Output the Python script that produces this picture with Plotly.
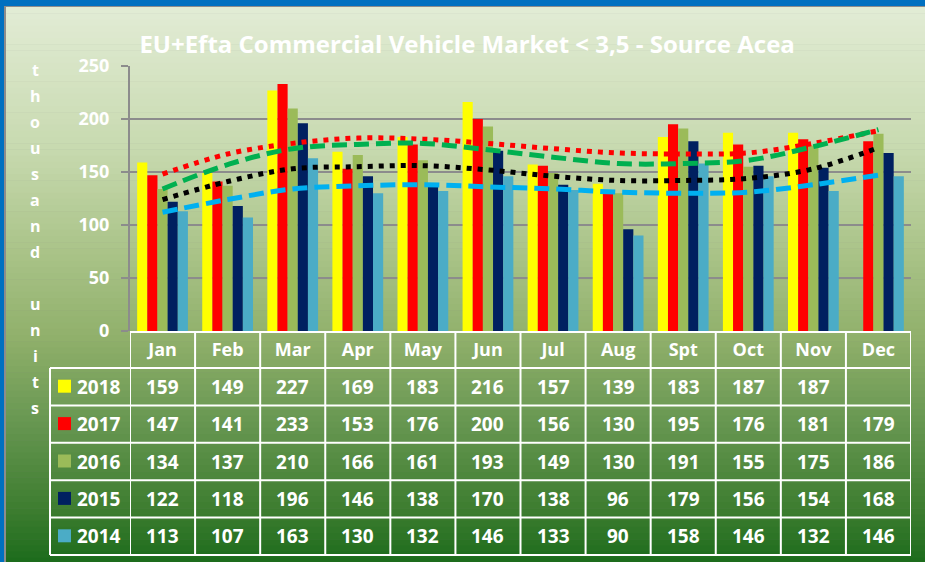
import plotly.graph_objects as go

months = ["Jan", "Feb", "Mar", "Apr", "May", "Jun", "Jul", "Aug", "Spt", "Oct", "Nov", "Dec"]
years = ["2018", "2017", "2016", "2015", "2014"]

v2018 = [159, 149, 227, 169, 183, 216, 157, 139, 183, 187, 187, None]
v2017 = [147, 141, 233, 153, 176, 200, 156, 130, 195, 176, 181, 179]
v2016 = [134, 137, 210, 166, 161, 193, 149, 130, 191, 155, 175, 186]
v2015 = [122, 118, 196, 146, 138, 170, 138, 96, 179, 156, 154, 168]
v2014 = [113, 107, 163, 130, 132, 146, 133, 90, 158, 146, 132, 146]

# trendlines (Excel polynomial trends)
trend2017 = [148, 167, 177, 182, 181, 177, 172, 168, 167, 168, 177, 189]
trend2016 = [134, 157, 172, 176, 177, 171, 164, 158, 158, 161, 174, 190]
trend2015 = [124, 141, 153, 155, 156, 152, 146, 142, 142, 144, 153, 173]
trend2014 = [112, 124, 134, 137, 138, 136, 134, 131, 130, 131, 138, 147]

y_title = "thousand units"
title = "EU+Efta Commercial Vehicle Market < 3,5 - Source Acea"

W, H = 925, 562
L, R, T, B = 130, 14, 66, 231
PW, PH = W - L - R, H - T - B

FONT = "Open Sans"
bar_colors = {"2018": "#FFFF00", "2017": "#FF0000", "2016": "#9BBB59",
              "2015": "#002060", "2014": "#4BACC6"}
values = {"2018": v2018, "2017": v2017, "2016": v2016, "2015": v2015, "2014": v2014}


def px(x):
    return (x - L) / PW


def py(y):
    return (H - B - y) / PH


fig = go.Figure()

for yr in years:
    fig.add_trace(go.Bar(x=months, y=values[yr], name=yr,
                         marker=dict(color=bar_colors[yr], line=dict(width=0))))

trends = [
    (trend2017, "#FF0000", "5px,6px"),
    (trend2016, "#00B050", "15px,7px"),
    (trend2015, "#000000", "5px,6px"),
    (trend2014, "#00B0F0", "15px,7px"),
]
for vals, col, dash in trends:
    fig.add_trace(go.Scatter(x=months, y=vals, mode="lines",
                             line=dict(color=col, width=5, dash=dash, shape="spline"),
                             hoverinfo="skip"))

shapes = []

# background gradient (gray frame line + green gradient)
shapes.append(dict(type="rect", xref="paper", yref="paper", x0=px(4), x1=px(W + 2),
                   y0=py(H + 2), y1=py(6), fillcolor="#8C8C8C", line_width=0, layer="below"))
stops = [(0.0, (0xE2, 0xEC, 0xD5)), (0.25, (0xC8, 0xDA, 0xB0)), (0.45, (0xA8, 0xC2, 0x86)),
         (0.6, (0x8F, 0xAF, 0x6A)), (0.75, (0x66, 0x96, 0x50)), (0.9, (0x3E, 0x7D, 0x30)),
         (1.0, (0x1B, 0x6B, 0x1B))]


def grad(t):
    for (t0, c0), (t1, c1) in zip(stops[:-1], stops[1:]):
        if t <= t1:
            f = (t - t0) / (t1 - t0)
            return "rgb(%d,%d,%d)" % tuple(round(a + (b - a) * f) for a, b in zip(c0, c1))
    return "rgb(%d,%d,%d)" % stops[-1][1]


top, n = 7, 90
step = (H + 2 - top) / n
for i in range(n):
    y0 = top + i * step
    shapes.append(dict(type="rect", xref="paper", yref="paper", x0=px(6), x1=px(W + 2),
                       y0=py(y0 + step + 0.5), y1=py(y0), fillcolor=grad((i + 0.5) / n),
                       line_width=0, layer="below"))

# table grid
white = dict(color="white", width=2)
row_top = 368
row_h = 37.4
shapes.append(dict(type="line", xref="x", yref="paper", x0=-0.5, x1=11.5,
                   y0=py(332), y1=py(332), line=white))
for k in range(6):
    yy = row_top + k * row_h
    shapes.append(dict(type="line", xref="paper", yref="paper", x0=px(50), x1=1,
                       y0=py(yy), y1=py(yy), line=white))
shapes.append(dict(type="line", xref="paper", yref="paper", x0=px(50), x1=px(50),
                   y0=py(row_top), y1=py(row_top + 5 * row_h), line=white))
for k in range(13):
    shapes.append(dict(type="line", xref="x", yref="paper", x0=k - 0.5, x1=k - 0.5,
                       y0=py(332), y1=py(row_top + 5 * row_h), line=white))

cell_font = dict(family=FONT, size=19, color="white", weight="bold")
annotations = []
for i, yr in enumerate(years):
    cy = row_top + (i + 0.5) * row_h
    shapes.append(dict(type="rect", xref="paper", yref="paper", x0=px(58), x1=px(71),
                       y0=py(cy + 6), y1=py(cy - 7), fillcolor=bar_colors[yr], line_width=0))
    annotations.append(dict(text=yr, xref="paper", yref="paper", x=px(75), y=py(cy),
                            xanchor="left", yanchor="middle", showarrow=False, font=cell_font))
    for j, m in enumerate(months):
        v = values[yr][j]
        if v is None:
            continue
        annotations.append(dict(text=str(v), xref="x", yref="paper", x=m, y=py(cy),
                                xanchor="center", yanchor="middle", showarrow=False,
                                font=cell_font))

# stacked y-axis title letters
for i, ch in enumerate(y_title):
    if ch == " ":
        continue
    annotations.append(dict(text=ch, xref="paper", yref="paper", x=px(35), y=py(70 + 26 * i),
                            xanchor="center", yanchor="middle", showarrow=False,
                            font=dict(family=FONT, size=16, color="white", weight="bold")))

fig.update_layout(
    width=W, height=H,
    margin=dict(l=L, r=R, t=T, b=B),
    paper_bgcolor="#0070C0",
    plot_bgcolor="#D9D9D9",
    barmode="group", bargap=0.22, bargroupgap=0,
    showlegend=False,
    title=dict(text=title, x=0.505, xanchor="center", y=1 - 45 / H, yanchor="middle",
               font=dict(family=FONT, size=24, color="white", weight="bold")),
    xaxis=dict(range=[-0.5, 11.5], showgrid=False, showline=False, ticks="",
               tickfont=dict(family=FONT, size=18, color="white", weight="bold"),
               ticklabelstandoff=6, automargin=False),
    yaxis=dict(range=[0, 250], dtick=50, showgrid=True, gridcolor="#8C8C8C", gridwidth=2,
               showline=True, linecolor="#8C8C8C", linewidth=2, zeroline=False,
               ticks="outside", ticklen=7, tickcolor="#8C8C8C", tickwidth=2,
               tickfont=dict(family=FONT, size=18, color="white", weight="bold"),
               ticklabelstandoff=8, automargin=False),
    shapes=shapes,
    annotations=annotations,
)

fig.write_html("out.html", config={"displayModeBar": False},
               post_script="document.body.style.margin='0';")
